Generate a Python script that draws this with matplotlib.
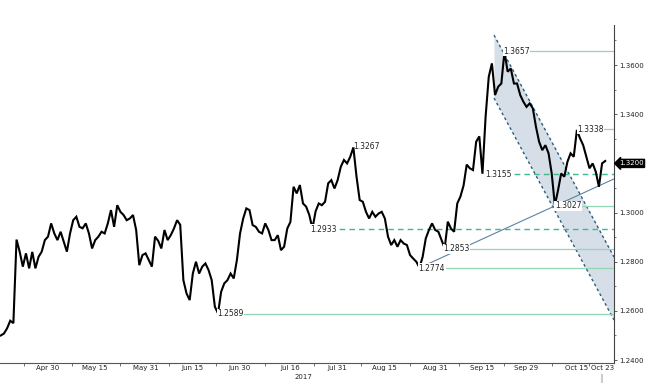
import matplotlib
matplotlib.use("Agg")

import matplotlib.pyplot as plt
import matplotlib.dates as mdates
import numpy as np
import pandas as pd
from matplotlib.lines import Line2D

# daily closes, starting 2017-04-15
start = "2017-04-15"
px = [
    1.2500, 1.2508, 1.2529, 1.2560, 1.2550, 1.2890, 1.2841, 1.2780, 1.2834, 1.2773,
    1.2840, 1.2773, 1.2820, 1.2841, 1.2888, 1.2902, 1.2956, 1.2915, 1.2888, 1.2922,
    1.2881, 1.2841, 1.2915, 1.2969, 1.2983, 1.2942, 1.2936, 1.2956, 1.2915, 1.2854,
    1.2888, 1.2902, 1.2922, 1.2915, 1.2956, 1.3010, 1.2942, 1.3030, 1.3003, 1.2990,
    1.2969, 1.2976, 1.2990, 1.2929, 1.2786, 1.2827, 1.2834, 1.2807, 1.2780, 1.2902,
    1.2885, 1.2854, 1.2929, 1.2888, 1.2908, 1.2935, 1.2969, 1.2950, 1.2725, 1.2671,
    1.2644, 1.2752, 1.2800, 1.2752, 1.2780, 1.2793, 1.2766, 1.2725, 1.2617, 1.2590,
    1.2678, 1.2712, 1.2725, 1.2752, 1.2732, 1.2807, 1.2915, 1.2976, 1.3017, 1.3010,
    1.2949, 1.2942, 1.2922, 1.2915, 1.2956, 1.2929, 1.2888, 1.2888, 1.2908, 1.2847,
    1.2861, 1.2935, 1.2962, 1.3105, 1.3078, 1.3112, 1.3037, 1.3024, 1.2990, 1.2935,
    1.3005, 1.3037, 1.3030, 1.3044, 1.3119, 1.3132, 1.3098, 1.3132, 1.3186, 1.3214,
    1.3200, 1.3227, 1.3265, 1.3146, 1.3051, 1.3044, 1.3003, 1.2976, 1.3003, 1.2983,
    1.2996, 1.3003, 1.2976, 1.2902, 1.2868, 1.2888, 1.2861, 1.2888, 1.2874, 1.2868,
    1.2827, 1.2813, 1.2800, 1.2776, 1.2820, 1.2895, 1.2929, 1.2956, 1.2929, 1.2922,
    1.2888, 1.2855, 1.2963, 1.2935, 1.2922, 1.3037, 1.3065, 1.3110, 1.3195, 1.3180,
    1.3173, 1.3288, 1.3310, 1.3158, 1.3390, 1.3552, 1.3607, 1.3478, 1.3512, 1.3525,
    1.3655, 1.3573, 1.3586, 1.3525, 1.3525, 1.3478, 1.3451, 1.3430, 1.3444, 1.3424,
    1.3349, 1.3288, 1.3254, 1.3274, 1.3241, 1.3159, 1.3030, 1.3090, 1.3159, 1.3146,
    1.3207, 1.3241, 1.3227, 1.3336, 1.3302, 1.3274, 1.3227, 1.3180, 1.3200, 1.3166,
    1.3105, 1.3200, 1.3210,
]

tick_dates = ["2017-04-30", "2017-05-15", "2017-05-31", "2017-06-15", "2017-06-30", "2017-07-16",
              "2017-07-31", "2017-08-15", "2017-08-31", "2017-09-15", "2017-09-29", "2017-10-15", "2017-10-23"]
tick_labels = ["Apr 30", "May 15", "May 31", "Jun 15", "Jun 30", "Jul 16",
               "Jul 31", "Aug 15", "Aug 31", "Sep 15", "Sep 29", "Oct 15", "Oct 23"]

# support / resistance levels and where they start
lvl = [1.3657, 1.3338, 1.3155, 1.3027, 1.2933, 1.2853, 1.2774, 1.2589]
lvl_at = ["2017-09-21 12:00", "2017-10-15 00:00", "2017-09-15 18:00", "2017-10-08 00:00",
          "2017-07-22 06:00", "2017-09-02 12:00", "2017-08-25 18:00", "2017-06-22 18:00"]
lvl_dash = [False, False, True, False, True, False, False, False]

top_lbl = 1.3267
top_at = "2017-08-04 21:00"

# descending channel and rising trendline
x0, x1 = "2017-04-14 18:00", "2017-10-26 19:00"
ch_x = ["2017-09-18 16:00", x1]
ch_hi = [1.3722, 1.2819]
ch_lo = [1.3466, 1.2563]
tl_x = ["2017-08-25 18:00", "2017-10-08 00:00"]
tl_y = [1.2774, 1.3027]

last = 1.3200

dt = pd.date_range(start, periods=len(px), freq="D")

fig = plt.figure(figsize=(6.53, 3.83), dpi=100)
ax = fig.add_axes([0.0, 0.0522, 0.9403, 0.8825])

fs = 5.5
fx = 5.0
tc = "#222222"

ch = pd.to_datetime(ch_x)
ax.fill_between(ch, ch_lo, ch_hi, color="#d6dee7", lw=0, zorder=1)
ax.plot(ch, ch_hi, color="#2b5c7e", lw=1.0, ls=(0, (2, 2)), zorder=2)
ax.plot(ch, ch_lo, color="#2b5c7e", lw=1.0, ls=(0, (2, 2)), zorder=2)

tx = mdates.date2num(pd.to_datetime(tl_x))
k = (tl_y[1] - tl_y[0]) / (tx[1] - tx[0])
xe = mdates.date2num(pd.Timestamp(x1))
ax.plot(mdates.num2date([tx[0], xe]), [tl_y[0], tl_y[1] + k * (xe - tx[1])],
        color="#5a84a3", lw=0.8, zorder=2)

for v, a, ds in zip(lvl, lvl_at, lvl_dash):
    t = pd.Timestamp(a)
    if ds:
        ax.plot([t, pd.Timestamp(x1)], [v, v], color="#3dbb8b", lw=1.0, ls=(0, (4, 3)), zorder=2)
    else:
        ax.plot([t, pd.Timestamp(x1)], [v, v], color="#92d6b6", lw=0.9, zorder=2)
    ax.text(t, v, f"{v:.4f}", fontsize=fs, color=tc, ha="left", va="center", zorder=4,
            bbox=dict(fc="white", ec="none", pad=0.3))

ax.text(pd.Timestamp(top_at), top_lbl, f"{top_lbl:.4f}", fontsize=fs, color=tc, ha="left", va="center", zorder=4)

ax.plot(dt, px, color="black", lw=1.5, zorder=3, solid_joinstyle="miter")

ax.set_xlim(pd.Timestamp(x0), pd.Timestamp(x1))
ax.set_ylim(1.2388, 1.3763)

td = pd.to_datetime(tick_dates)
ax.set_xticks(td, labels=tick_labels)
mid = td[:-1] + (td[1:] - td[:-1]) / 2
ax.set_xticks(list(mid) + [td[0] - pd.Timedelta(days=7.5)], minor=True)
ax.tick_params(axis="x", which="major", length=0, pad=1.5, labelsize=fx, labelcolor=tc)
ax.tick_params(axis="x", which="minor", length=2.5, width=0.6, color="#555555")

ax.yaxis.tick_right()
yt = np.round(np.arange(1.24, 1.3601, 0.02), 2)
ax.set_yticks(yt, labels=[f"{v:.4f}" for v in yt])
ax.set_yticks(np.round(np.arange(1.25, 1.3701, 0.02), 2), minor=True)
ax.tick_params(axis="y", which="major", length=2.5, width=0.6, pad=1.0, labelsize=fx, labelcolor=tc, color="#444444")
ax.tick_params(axis="y", which="minor", length=1.5, width=0.5, color="#444444")

for s in ["top", "left"]:
    ax.spines[s].set_visible(False)
ax.spines["bottom"].set_color("#555555")
ax.spines["bottom"].set_linewidth(0.8)
ax.spines["right"].set_color("#444444")
ax.spines["right"].set_linewidth(0.8)

ax.annotate(f"{last:.4f}", xy=(1, last), xycoords=ax.get_yaxis_transform(),
            xytext=(3.5, 0), textcoords="offset points", ha="left", va="center",
            fontsize=fx, color="white", zorder=5, annotation_clip=False,
            bbox=dict(boxstyle="larrow,pad=0.15", fc="black", ec="black"))

fig.text(303 / 653, 1 - 377 / 383, "2017", fontsize=fx, color=tc, ha="center", va="center")
fig.add_artist(Line2D([602 / 653, 602 / 653], [0, 8 / 383], color="#cccccc", lw=1.5))

fig.savefig("out.png", dpi=100)
